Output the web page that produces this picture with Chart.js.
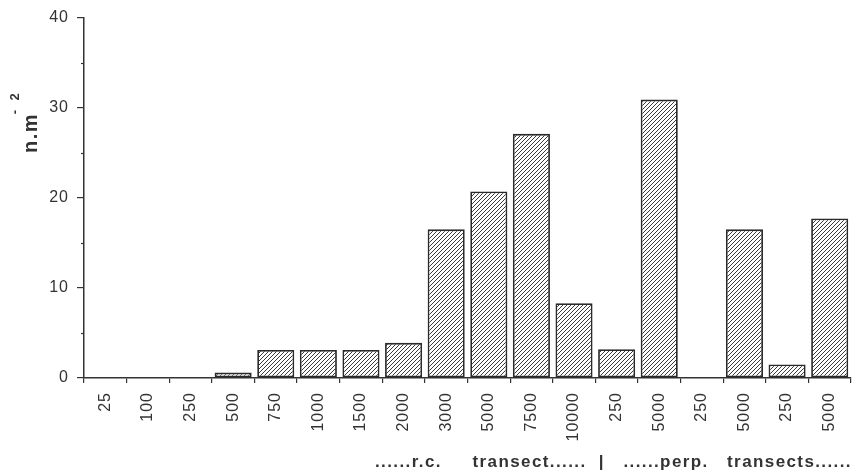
<!DOCTYPE html>
<html>
<head>
<meta charset="utf-8">
<script src="https://cdn.jsdelivr.net/npm/chart.js@4.4.1/dist/chart.umd.min.js"></script>
<style>
  html, body { margin: 0; padding: 0; background: #fff; }
  #wrap { width: 858px; height: 476px; }
</style>
</head>
<body>
<div id="wrap"><canvas id="barChart" width="858" height="476"></canvas></div>
<script>
// distances (m) along the transects
const categories = ["25", "100", "250", "500", "750", "1000", "1500", "2000", "3000", "5000", "7500", "10000", "250", "5000", "250", "5000", "250", "5000"];
// density, n.m-2
const density = [0, 0, 0, 0.6, 3.1, 3.1, 3.1, 3.9, 16.5, 20.7, 27.1, 8.3, 3.2, 30.9, 0, 16.5, 1.5, 17.7];
const yTicks = [0, 10, 20, 30, 40];
const groupLabel = "......r.c.     transect......  |   ......perp.   transects......";

const ink = "#333";
const fontFamily = "'Liberation Sans', Arial, Helvetica, sans-serif";

// diagonal hatch fill
function hatch() {
  const s = 4;
  const c = document.createElement("canvas");
  c.width = s; c.height = s;
  const g = c.getContext("2d");
  g.fillStyle = "#fff";
  g.fillRect(0, 0, s, s);
  g.strokeStyle = "#3a3a3a";
  g.lineWidth = 1;
  g.beginPath();
  g.moveTo(0, s); g.lineTo(s, 0);
  g.moveTo(-1, 1); g.lineTo(1, -1);
  g.moveTo(s - 1, s + 1); g.lineTo(s + 1, s - 1);
  g.stroke();
  return g.createPattern(c, "repeat");
}

// letter spacing for tick labels, y title with superscript, minor ticks, group label
const extras = {
  id: "extras",
  beforeDraw(chart) {
    chart.ctx.letterSpacing = "1px";
  },
  afterDraw(chart) {
    const ctx = chart.ctx;
    const y = chart.scales.y;
    ctx.save();
    ctx.strokeStyle = ink;
    ctx.lineWidth = 1.2;
    [5, 15, 25, 35].forEach(function (v) {
      const py = Math.round(y.getPixelForValue(v)) + 0.5;
      ctx.beginPath();
      ctx.moveTo(y.right - 3, py);
      ctx.lineTo(y.right, py);
      ctx.stroke();
    });

    ctx.fillStyle = ink;
    ctx.letterSpacing = "1.4px";
    ctx.font = "bold 17px " + fontFamily;
    ctx.textBaseline = "middle";
    ctx.textAlign = "left";
    ctx.fillText(groupLabel, 375, 462);

    ctx.translate(31, 133);
    ctx.rotate(-Math.PI / 2);
    ctx.textAlign = "center";
    ctx.letterSpacing = "1.5px";
    ctx.font = "bold 20px " + fontFamily;
    ctx.fillText("n.m", 0, 0);
    ctx.letterSpacing = "0px";
    ctx.font = "bold 13px " + fontFamily;
    ctx.fillText("-", 21, -16);
    ctx.fillText("2", 36, -16);
    ctx.restore();
    chart.ctx.letterSpacing = "0px";
  }
};

const dataBar = {
  labels: categories,
  datasets: [
    {
      label: "n.m-2",
      data: density,
      backgroundColor: hatch(),
      borderColor: "#2a2a2a",
      borderWidth: 1.8,
      borderSkipped: false,
      categoryPercentage: 1,
      barPercentage: 0.87,
    },
  ],
};

const configBar = {
  type: "bar",
  data: dataBar,
  plugins: [extras],
  options: {
    responsive: false,
    animation: false,
    layout: { padding: { top: 4, right: 4, left: 0, bottom: 0 } },
    plugins: {
      legend: { display: false },
      tooltip: { enabled: false },
    },
    scales: {
      x: {
        afterFit: function (s) { s.height = 98; },
        border: { color: ink, width: 1.5 },
        grid: { display: true, drawOnChartArea: false, tickLength: 5, color: ink, lineWidth: 1.2, offset: true },
        ticks: {
          color: ink,
          font: { family: fontFamily, size: 16 },
          minRotation: 90,
          maxRotation: 90,
          padding: 9,
          autoSkip: false,
        },
      },
      y: {
        min: 0,
        max: 40,
        afterFit: function (s) { s.width = 84; },
        afterBuildTicks: function (s) {
          s.ticks = yTicks.map(function (v) { return { value: v }; });
        },
        border: { color: ink, width: 1.5 },
        grid: { display: true, drawOnChartArea: false, tickLength: 7, color: ink, lineWidth: 1.2 },
        ticks: {
          color: ink,
          font: { family: fontFamily, size: 16 },
          padding: 8,
        },
      },
    },
  },
};

new Chart(document.getElementById("barChart"), configBar);
</script>
</body>
</html>
